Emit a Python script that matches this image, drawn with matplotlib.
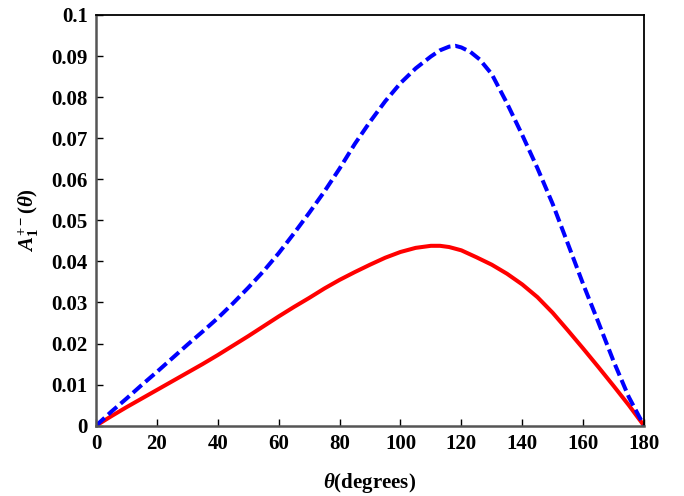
import matplotlib
matplotlib.use("Agg")
import matplotlib.pyplot as plt

# ---- data ----
theta_blue = [0, 5, 10, 15, 20, 25, 30, 35, 40, 45, 50, 55, 60, 65, 70, 75, 80, 85,
              90, 95, 100, 105, 110, 113, 116, 118, 120, 123, 126, 130, 135, 140,
              145, 150, 155, 160, 165, 170, 175, 180]
a_blue = [0.0, 0.0034, 0.0066, 0.0099, 0.0131, 0.0164, 0.0197, 0.0229, 0.0262,
          0.0298, 0.0336, 0.0376, 0.0420, 0.0468, 0.0518, 0.0570, 0.0626, 0.0686,
          0.0740, 0.0790, 0.0834, 0.0870, 0.0899, 0.0914, 0.0923, 0.0925, 0.0921,
          0.0910, 0.0892, 0.0856, 0.0785, 0.0708, 0.0627, 0.0540, 0.0443, 0.0345,
          0.0252, 0.0157, 0.0070, 0.0]

theta_red = [0, 5, 10, 15, 20, 25, 30, 35, 40, 45, 50, 55, 60, 65, 70, 75, 80, 85,
             90, 95, 100, 105, 110, 113, 116, 120, 125, 130, 135, 140, 145, 150,
             155, 160, 165, 170, 175, 180]
a_red = [0.0, 0.0023, 0.0045, 0.0066, 0.0087, 0.0108, 0.0129, 0.0150, 0.0172,
         0.0195, 0.0218, 0.0242, 0.0266, 0.0289, 0.0311, 0.0334, 0.0355, 0.0374,
         0.0392, 0.0409, 0.0423, 0.0433, 0.0438, 0.0438, 0.0435, 0.0427, 0.0410,
         0.0392, 0.0370, 0.0344, 0.0313, 0.0275, 0.0232, 0.0188, 0.0143, 0.0097,
         0.0050, 0.0]

xticks = [0, 20, 40, 60, 80, 100, 120, 140, 160, 180]
yticks = [0, 0.01, 0.02, 0.03, 0.04, 0.05, 0.06, 0.07, 0.08, 0.09, 0.1]
ytick_labels = ['0', '0.01', '0.02', '0.03', '0.04', '0.05', '0.06', '0.07',
                '0.08', '0.09', '0.1']

# ---- style ----
plt.rcParams['font.family'] = ['Liberation Serif', 'DejaVu Serif']
plt.rcParams['font.weight'] = 'bold'
plt.rcParams['mathtext.fontset'] = 'custom'
plt.rcParams['mathtext.rm'] = 'Liberation Serif:bold'
plt.rcParams['mathtext.it'] = 'Liberation Serif:bold:italic'
plt.rcParams['mathtext.bf'] = 'Liberation Serif:bold'

fig = plt.figure(figsize=(6.84, 4.96), dpi=100)
ax = fig.add_axes([96/684, 1 - 425.7/496, (644-96)/684, (425.7-15)/496])

ax.plot(theta_red, a_red, color='#ff0000', lw=2.9, solid_capstyle='butt')
ax.plot(theta_blue, a_blue, color='#0000ff', lw=2.9, linestyle=(0, (2.9, 1.2)))

ax.set_xlim(0, 180)
ax.set_ylim(0, 0.1)
ax.set_xticks(xticks)
ax.set_xticklabels([str(v) for v in xticks])
ax.set_yticks(yticks)
ax.set_yticklabels(ytick_labels)

ax.tick_params(direction='in', length=5, width=1.0, labelsize=15, pad=6,
               top=False, right=False)
for lab in ax.get_xticklabels() + ax.get_yticklabels():
    lab.set_fontweight('bold')

for s in ['left', 'bottom']:
    ax.spines[s].set_color('#555555')
    ax.spines[s].set_linewidth(1.8)
for s in ['top', 'right']:
    ax.spines[s].set_color('black')
    ax.spines[s].set_linewidth(1.3)

ax.set_xlabel(r'$\theta$(degrees)', fontsize=15, fontweight='bold')
ax.set_ylabel(r'$A_1^{+-}(\theta)$', fontsize=15, fontweight='bold')
ax.xaxis.set_label_coords(0.5, -0.11)
ax.yaxis.set_label_coords(-0.10, 0.5)

fig.savefig('out.png', dpi=100)
